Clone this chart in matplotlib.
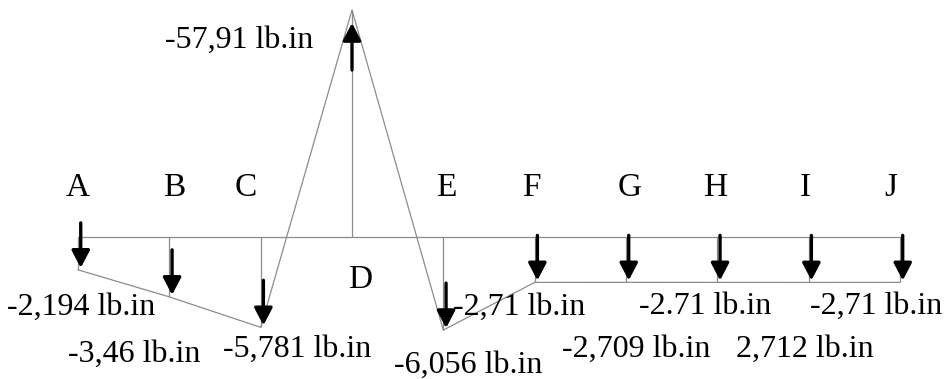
import numpy as np
import matplotlib
matplotlib.use('Agg')
import matplotlib.pyplot as plt

# bending moment at each support (lb.in)
stations = ['A', 'B', 'C', 'D', 'E', 'F', 'G', 'H', 'I', 'J']
moment = [-2.194, -3.46, -5.781, -57.91, -6.056, -2.71, -2.709, -2.71, 2.712, -2.71]
labels = ['-2,194 lb.in', '-3,46 lb.in', '-5,781 lb.in', '-57,91 lb.in', '-6,056 lb.in',
          '-2,71 lb.in', '-2,709 lb.in', '-2.71 lb.in', '2,712 lb.in', '-2,71 lb.in']
reaction = 'D'   # fixed support, its moment is drawn above the beam

# text offsets from each node on the beam, in pixels (dx, dy)
name_off = [(0, 41), (5, 41), (-15, 41), (8, -51), (3, 41),
            (-3, 41), (4, 41), (-1, 41), (-3, 41), (-9, 41)]
value_off = [(-71, -78), (-101, -125), (-38, -120), (-187, 189), (-49, -136),
             (-82, -78), (-64, -120), (-78, -77), (-73, -120), (-90, -77)]

pt = 0.72  # points per pixel at 100 dpi
grey = '#8c8c8c'
serif = 'Liberation Serif'

x = np.arange(len(stations))
sign = np.where(np.array(stations) == reaction, 1, -1)
y = sign * np.abs(moment)

fig = plt.figure(figsize=(9.45, 3.79), dpi=100)
ax = fig.add_axes([0, 0, 1, 1])
# log-like ordinate so the big support moment fits with the small ones
ax.set_yscale('symlog', linthresh=2, linscale=0.18)
ax.set_xlim(-0.854, 9.493)
ax.set_ylim(-13.81, 68.55)
ax.axis('off')

# beam, node ties and moment diagram
ax.plot([x[0], x[-1]], [0, 0], color=grey, lw=0.9)
ax.vlines(x, 0, y, color=grey, lw=0.9)
ax.plot(x, y, color=grey, lw=0.9)

arrow = dict(arrowstyle='-|>,head_length=1.05,head_width=0.55', color='black', lw=2.4,
             shrinkA=0)
for xi, yi, s in zip(x, y, stations):
    if s == reaction:
        ax.annotate('', xy=(xi, yi), xytext=(0, -60 * pt), textcoords='offset points',
                    arrowprops=dict(arrow, shrinkB=13 * pt))
    else:
        ax.annotate('', xy=(xi + 0.03, yi), xytext=(0, 47 * pt), textcoords='offset points',
                    arrowprops=dict(arrow, shrinkB=2 * pt))

for xi, s, (dx, dy) in zip(x, stations, name_off):
    ax.annotate(s, xy=(xi, 0), xytext=(dx * pt, dy * pt), textcoords='offset points',
                ha='center', va='baseline', fontsize=24, family=serif)

for xi, s, (dx, dy) in zip(x, labels, value_off):
    ax.annotate(s, xy=(xi, 0), xytext=(dx * pt, dy * pt), textcoords='offset points',
                ha='left', va='baseline', fontsize=23, family=serif)

fig.savefig('out.png', dpi=100, facecolor='white')
